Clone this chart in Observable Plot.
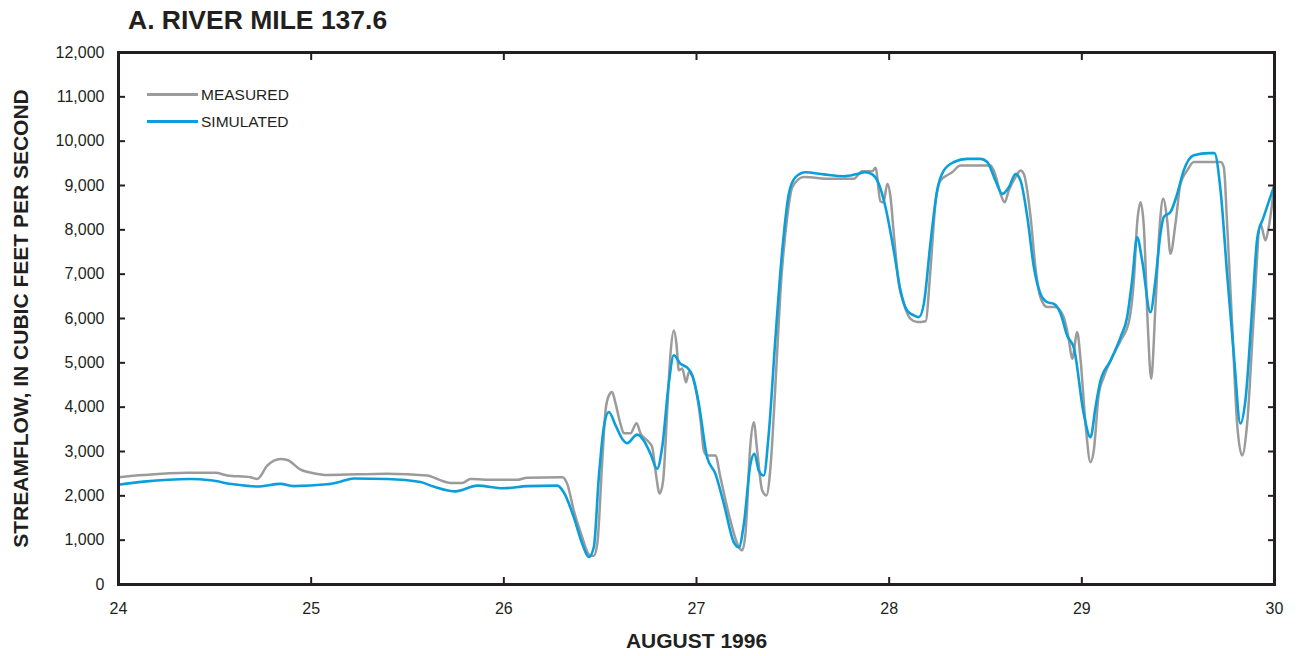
<!DOCTYPE html>
<html>
<head>
<meta charset="utf-8">
<script src="https://cdn.jsdelivr.net/npm/d3@7"></script>
<script src="https://cdn.jsdelivr.net/npm/@observablehq/plot@0.6"></script>
<style>
  html, body { margin: 0; padding: 0; background: #fff; }
  #wrap { position: relative; width: 1299px; height: 656px; font-family: "Liberation Sans", Arial, Helvetica, sans-serif; color: #231f20; }
  #title { position: absolute; left: 128px; top: 7px; font-size: 26.5px; font-weight: bold; line-height: 26px; white-space: nowrap; }
  #legend { position: absolute; left: 147px; top: 81px; font-size: 15.5px; }
  #legend .row { display: flex; align-items: center; height: 27px; }
  #legend .swatch { display: inline-block; width: 51px; height: 2.5px; margin-right: 3px; }
  #chart { position: absolute; left: 0; top: 0; }
</style>
</head>
<body>
<div id="wrap">
  <div id="chart"></div>
  <div id="title">A. RIVER MILE 137.6</div>
  <div id="legend"></div>
</div>
<script>
// ---- data ----
const seriesNames = ["MEASURED", "SIMULATED"];
const seriesColors = ["#9b9b9b", "#0a9fdb"];

const measuredDay = [24.000,24.130,24.357,24.503,24.564,24.685,24.720,24.772,24.841,24.876,
  24.945,25.012,25.083,25.395,25.602,25.671,25.723,25.784,25.827,25.946,
  26.069,26.121,26.303,26.329,26.363,26.398,26.450,26.467,26.485,26.511,
  26.528,26.545,26.562,26.580,26.605,26.623,26.657,26.689,26.709,26.744,
  26.770,26.787,26.809,26.827,26.848,26.865,26.882,26.896,26.908,26.926,
  26.946,26.960,26.995,27.021,27.038,27.055,27.098,27.124,27.176,27.220,
  27.237,27.254,27.280,27.297,27.315,27.341,27.363,27.384,27.410,27.436,
  27.471,27.497,27.557,27.696,27.816,27.860,27.912,27.929,27.955,27.970,
  27.991,28.007,28.024,28.050,28.076,28.111,28.145,28.189,28.214,28.240,
  28.266,28.301,28.327,28.370,28.526,28.552,28.578,28.599,28.621,28.656,
  28.682,28.699,28.734,28.759,28.785,28.820,28.863,28.906,28.932,28.950,
  28.976,28.993,29.019,29.045,29.062,29.088,29.114,29.166,29.201,29.244,
  29.270,29.287,29.305,29.322,29.342,29.360,29.382,29.405,29.422,29.443,
  29.460,29.486,29.512,29.547,29.581,29.720,29.737,29.754,29.780,29.806,
  29.832,29.858,29.893,29.927,29.953,29.970,29.996];
const measuredCfs = [2420,2470,2520,2520,2460,2420,2380,2680,2830,2810,
  2590,2510,2470,2500,2460,2350,2290,2290,2380,2360,
  2360,2410,2420,2270,1670,1180,650,650,920,2800,
  3930,4260,4340,4080,3630,3410,3410,3640,3410,3250,
  3100,2570,2050,2350,3930,5200,5730,5430,4830,4870,
  4560,4790,4450,3700,3020,2910,2910,2420,1440,840,
  770,1140,3170,3660,3020,2120,2010,2650,4530,6630,
  8290,8960,9190,9150,9150,9320,9320,9400,8640,8620,
  9040,8740,7910,6780,6330,5990,5920,5940,7080,8590,
  9110,9230,9300,9450,9450,9230,8810,8620,8890,9190,
  9340,9260,8290,7160,6480,6260,6260,6030,5540,5090,
  5690,5090,3630,2760,3020,4300,4680,5200,5500,5920,
  6860,8140,8620,8060,5880,4640,6260,8140,8700,8210,
  7460,8140,9040,9340,9530,9530,9410,8140,5880,3630,
  2910,3630,6100,8140,7760,8060,8890];

const simulatedDay = [24.000,24.130,24.374,24.477,24.597,24.720,24.841,24.908,25.083,25.152,
  25.220,25.395,25.567,25.635,25.749,25.862,25.998,26.121,26.277,26.311,
  26.363,26.407,26.441,26.467,26.493,26.519,26.545,26.580,26.614,26.640,
  26.692,26.726,26.761,26.796,26.822,26.856,26.882,26.917,26.952,26.978,
  27.012,27.055,27.098,27.142,27.194,27.220,27.246,27.280,27.301,27.323,
  27.349,27.375,27.410,27.445,27.479,27.514,27.566,27.661,27.765,27.834,
  27.877,27.912,27.946,27.981,28.024,28.059,28.093,28.128,28.154,28.180,
  28.214,28.249,28.284,28.336,28.405,28.474,28.509,28.552,28.587,28.621,
  28.656,28.682,28.717,28.751,28.785,28.820,28.855,28.889,28.924,28.958,
  29.010,29.045,29.071,29.097,29.149,29.201,29.235,29.261,29.287,29.313,
  29.356,29.382,29.408,29.425,29.460,29.495,29.529,29.581,29.660,29.688,
  29.720,29.754,29.790,29.823,29.849,29.887,29.911,29.944,29.996];
const simulatedCfs = [2250,2320,2380,2350,2260,2210,2270,2220,2260,2320,
  2390,2380,2310,2210,2100,2230,2170,2220,2230,2080,
  1520,920,620,840,2420,3550,3890,3590,3290,3190,
  3380,3250,2950,2610,3100,4530,5170,4980,4890,4720,
  4080,2870,2500,1820,950,840,1370,2720,2950,2570,
  2460,3400,5580,7530,8810,9190,9300,9250,9210,9260,
  9300,9250,9040,8510,7530,6630,6180,6070,6030,6330,
  7690,8890,9340,9530,9600,9600,9530,9110,8810,8960,
  9260,9110,8290,7160,6560,6370,6330,6120,5610,5350,
  3850,3320,4000,4600,5050,5580,6030,6860,7830,7310,
  6140,6860,7910,8290,8400,8810,9340,9680,9730,9730,
  8890,7010,5130,3630,4150,6410,7830,8290,8960];

const xTicks = [24, 25, 26, 27, 28, 29, 30];
const yTicks = [0,1000,2000,3000,4000,5000,6000,7000,8000,9000,10000,11000,12000];
const xLabel = "AUGUST 1996";
const yLabel = "STREAMFLOW, IN CUBIC FEET PER SECOND";

// ---- tables ----
const measured = measuredDay.map((d, i) => ({day: d, cfs: measuredCfs[i]}));
const simulated = simulatedDay.map((d, i) => ({day: d, cfs: simulatedCfs[i]}));

const ink = "#231f20";
const chart = Plot.plot({
  width: 1299,
  height: 656,
  marginLeft: 118,
  marginRight: 25,
  marginTop: 52,
  marginBottom: 72,
  style: {fontFamily: '"Liberation Sans", Arial, Helvetica, sans-serif', fontSize: "16px", color: ink, background: "#fff", overflow: "visible"},
  x: {domain: [24, 30]},
  y: {domain: [0, 12000]},
  marks: [
    Plot.line(measured, {x: "day", y: "cfs", stroke: seriesColors[0], strokeWidth: 2.5, curve: "monotone-x"}),
    Plot.line(simulated, {x: "day", y: "cfs", stroke: seriesColors[1], strokeWidth: 2.6, curve: "monotone-x"}),
    Plot.axisY({ticks: yTicks, tickSize: -7, tickPadding: 21, strokeWidth: 2, tickFormat: d3.format(","), label: null, fontSize: 16}),
    Plot.axisY({anchor: "right", ticks: yTicks, tickSize: -7, strokeWidth: 2, tickFormat: () => "", label: null}),
    Plot.axisX({ticks: xTicks, tickSize: -7, tickPadding: 25, strokeWidth: 2, tickFormat: d => String(d), label: null, fontSize: 16}),
    Plot.axisX({anchor: "top", ticks: xTicks, tickSize: -7, strokeWidth: 2, tickFormat: () => "", label: null}),
    Plot.axisY({ticks: [], tickSize: 0, label: yLabel, labelAnchor: "center", labelArrow: "none", labelOffset: 105, fontSize: 21, fontWeight: "bold"}),
    Plot.axisX({ticks: [], tickSize: 0, label: xLabel, labelAnchor: "center", labelArrow: "none", labelOffset: 63, fontSize: 21, fontWeight: "bold"}),
    Plot.frame({stroke: ink, strokeWidth: 3})
  ]
});
document.getElementById("chart").appendChild(chart);

// ---- legend ----
const legend = document.getElementById("legend");
seriesNames.forEach((name, i) => {
  const row = document.createElement("div");
  row.className = "row";
  const sw = document.createElement("span");
  sw.className = "swatch";
  sw.style.background = seriesColors[i];
  const tx = document.createElement("span");
  tx.textContent = name;
  row.appendChild(sw);
  row.appendChild(tx);
  legend.appendChild(row);
});
</script>
</body>
</html>
